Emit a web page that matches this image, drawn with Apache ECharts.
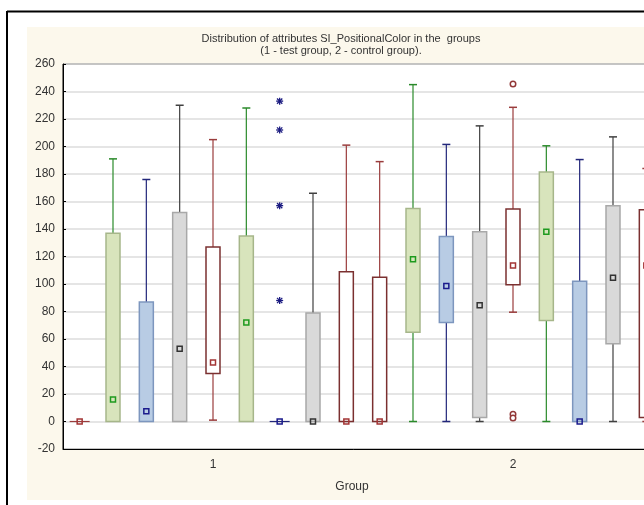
<!DOCTYPE html>
<html>
<head>
<meta charset="utf-8">
<script src="https://cdn.jsdelivr.net/npm/echarts@6/dist/echarts.min.js"></script>
<style>html,body{margin:0;padding:0;background:#fff;}#c{width:644px;height:505px;}</style>
</head>
<body>
<div id="c"></div>
<script>
// ---- data ----
const groupLabels = ['1', '2'];
const titleLines = ['Distribution of attributes SI_PositionalColor in the  groups', '(1 - test group, 2 - control group).'];
const axisName = 'Group';
const yTicks = { min: -20, max: 260, step: 20 };
// 18 boxes: 9 attributes in group 1, then 9 in group 2
const boxIds = ['1a','1b','1c','1d','1e','1f','1g','1h','1i','2a','2b','2c','2d','2e','2f','2g','2h','2i'];
const boxMin    = [0, 0, 0,   0,   1,   0,   0, 0,   0,   0,   0,   0,     0,   79.5, 0,     0,     0,     0];
const boxQ1     = [0, 0, 0,   0,   35,  0,   0, 0,   0,   0,   65,  72,    3,   99.5, 73.5,  0,     56.5,  3];
const boxMedian = [0, 16, 7.5, 53, 43,  72,  0, 0,   0,   0,   118, 98.5,  84.5, 113.5, 138, 0,     104.5, 113.5];
const boxQ3     = [0, 137, 87, 152, 127, 135, 0, 79, 109, 105, 155, 134.5, 138, 154.5, 181.5, 102,   157,   154];
const boxMax    = [0, 191, 176, 230, 205, 228, 0, 166, 201, 189, 245, 201.5, 215, 228.5, 200.5, 190.5, 207,   184];
const outlierPoints = [[13, 245.5], [13, 5.2], [13, 2.6]];
const extremePoints = [[6, 233], [6, 212], [6, 157], [6, 88]];

// ---- styles ----
const palette = [
  { whisker: '#9A3C3C', stroke: '#7B3030', fill: '#FFFFFF', med: '#A33535' },
  { whisker: '#2A8A2A', stroke: '#A6B68A', fill: '#D8E4BC', med: '#1E9A1E' },
  { whisker: '#22267A', stroke: '#7D96BE', fill: '#B8CCE4', med: '#1A1A8C' },
  { whisker: '#404040', stroke: '#A8A8A8', fill: '#D9D9D9', med: '#333333' }
];
function styleOf(i) { return palette[(i % 9) % 4]; }

const boxData = boxIds.map((id, i) => [i, boxMin[i], boxQ1[i], boxMedian[i], boxQ3[i], boxMax[i]]);

const chart = echarts.init(document.getElementById('c'), null, { renderer: 'canvas' });

function renderBox(params, api) {
  const i = api.value(0);
  const st = styleOf(i);
  const x = api.coord([i, 0])[0];
  const y = v => api.coord([i, v])[1];
  const mn = api.value(1), q1 = api.value(2), md = api.value(3), q3 = api.value(4), mx = api.value(5);
  const bw = 14, cap = 8, ms = 5;
  const ch = [];
  const line = (x1, y1, x2, y2, c, w) => ({ type: 'line', shape: { x1, y1, x2, y2 }, style: { stroke: c, lineWidth: w || 1 } });
  if (mx > q3) {
    ch.push(line(x, y(q3), x, y(mx), st.whisker, 1.2));
    ch.push(line(x - cap / 2, y(mx), x + cap / 2, y(mx), st.whisker, 1.5));
  }
  if (q1 > mn) {
    ch.push(line(x, y(q1), x, y(mn), st.whisker, 1.2));
    ch.push(line(x - cap / 2, y(mn), x + cap / 2, y(mn), st.whisker, 1.5));
  }
  if (q3 > q1) {
    ch.push({ type: 'rect', shape: { x: x - bw / 2, y: y(q3), width: bw, height: y(q1) - y(q3) },
      style: { fill: st.fill, stroke: st.stroke, lineWidth: 1.5 } });
  } else {
    ch.push(line(x - 10, y(q1), x + 10, y(q1), st.whisker, 1.2));
  }
  ch.push({ type: 'rect', shape: { x: x - ms / 2, y: y(md) - ms / 2, width: ms, height: ms },
    style: { fill: 'none', stroke: st.med, lineWidth: 1.5 } });
  return { type: 'group', children: ch };
}

function renderStar(params, api) {
  const i = api.value(0);
  const p = api.coord([i, api.value(1)]);
  const r = 3.5, d = r * 0.75;
  const c = '#1A1A80';
  const mk = (x1, y1, x2, y2) => ({ type: 'line', shape: { x1: p[0] + x1, y1: p[1] + y1, x2: p[0] + x2, y2: p[1] + y2 }, style: { stroke: c, lineWidth: 1.3 } });
  return { type: 'group', children: [mk(0, -r, 0, r), mk(-r, 0, r, 0), mk(-d, -d, d, d), mk(d, -d, -d, d)] };
}

const option = {
  animation: false,
  backgroundColor: '#FFFFFF',
  textStyle: { fontFamily: 'Arial, "Liberation Sans", sans-serif' },
  graphic: [
    { type: 'rect', z: -10, silent: true, shape: { x: 27, y: 27, width: 640, height: 473 }, style: { fill: '#FCF8EC' } },
    { type: 'line', z: 10, silent: true, shape: { x1: 7, y1: 11.5, x2: 644, y2: 11.5 }, style: { stroke: '#000', lineWidth: 2 } },
    { type: 'line', z: 10, silent: true, shape: { x1: 7, y1: 11, x2: 7, y2: 505 }, style: { stroke: '#000', lineWidth: 2 } },
    { type: 'text', z: 10, silent: true, x: 341, y: 33,
      style: { text: titleLines.join('\n'), fill: '#333', font: '11px Arial, "Liberation Sans", sans-serif', align: 'center', lineHeight: 12 } }
  ],
  grid: { left: 63, top: 64, width: 600, height: 385, outerBoundsMode: 'none', containLabel: false,
    show: true, backgroundColor: '#FFFFFF', borderColor: '#000', borderWidth: 1 },
  xAxis: [
    { type: 'category', data: boxIds, show: false, gridIndex: 0 },
    { type: 'category', data: groupLabels, gridIndex: 0, position: 'bottom',
      axisLine: { lineStyle: { color: '#000', width: 1 } },
      axisTick: { inside: true, length: 4, alignWithLabel: true, lineStyle: { color: '#000' } },
      axisLabel: { color: '#333', fontSize: 12, margin: 10 },
      name: axisName, nameLocation: 'middle', nameGap: 32,
      nameTextStyle: { color: '#333', fontSize: 12, padding: [0, 22, 0, 0] },
      splitLine: { show: false } }
  ],
  yAxis: {
    type: 'value', min: yTicks.min, max: yTicks.max, interval: yTicks.step,
    axisLine: { show: true, lineStyle: { color: '#000', width: 1 } },
    axisTick: { show: true, inside: true, length: 3, lineStyle: { color: '#000' } },
    axisLabel: { color: '#333', fontSize: 12, margin: 8 },
    splitLine: { show: true, lineStyle: { color: '#DCDCDC', width: 1.5 } }
  },
  series: [
    { type: 'custom', xAxisIndex: 0, yAxisIndex: 0, renderItem: renderBox, data: boxData, clip: true, z: 3 },
    { type: 'scatter', xAxisIndex: 0, yAxisIndex: 0, data: outlierPoints, symbol: 'circle', symbolSize: 5.5,
      itemStyle: { color: '#FFFFFF', borderColor: '#923838', borderWidth: 1.5, opacity: 1 }, z: 4 },
    { type: 'custom', xAxisIndex: 0, yAxisIndex: 0, renderItem: renderStar, data: extremePoints, z: 4 }
  ]
};
chart.setOption(option);
</script>
</body>
</html>
